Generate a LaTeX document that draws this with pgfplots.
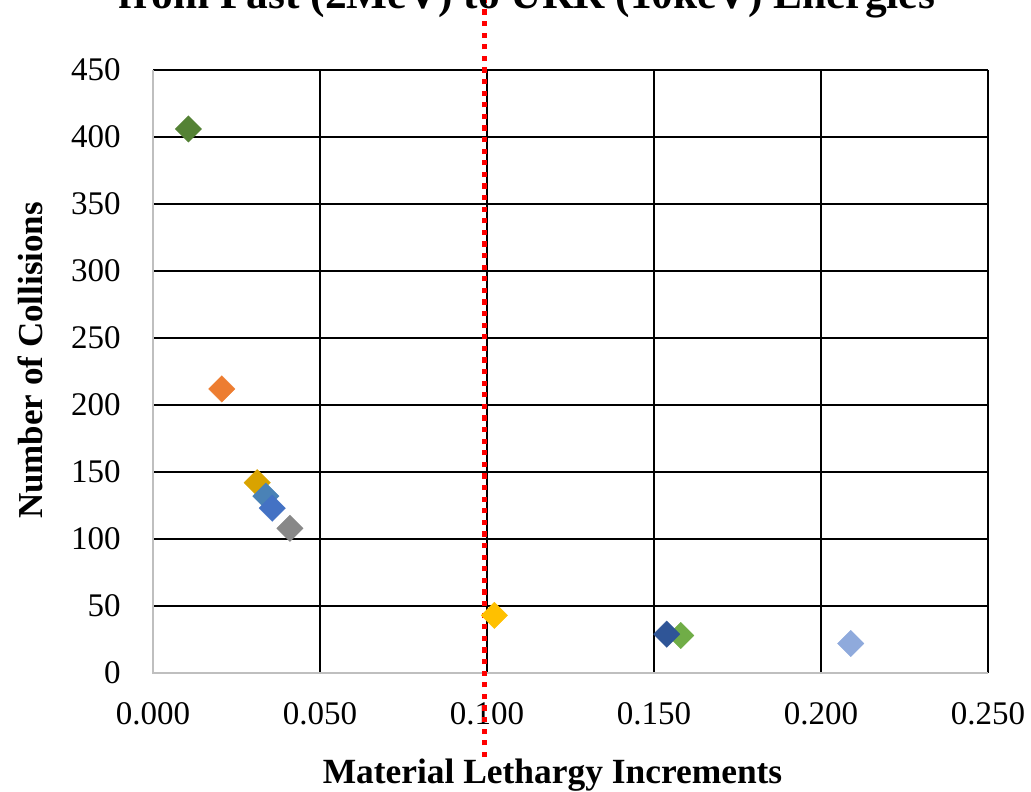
\documentclass[border=0pt]{standalone}
\usepackage{fontspec}
\setmainfont{Liberation Serif}
\usepackage{pgfplots}
\pgfplotsset{compat=1.18}

\definecolor{cDarkGreen}{HTML}{548235}
\definecolor{cOrange}{HTML}{ED7D31}
\definecolor{cGold}{HTML}{D9A300}
\definecolor{cSteel}{HTML}{4A82B6}
\definecolor{cBlue}{HTML}{4472C4}
\definecolor{cGray}{HTML}{888888}
\definecolor{cYellow}{HTML}{FFC000}
\definecolor{cNavy}{HTML}{2F5597}
\definecolor{cGreen}{HTML}{70AD47}
\definecolor{cLightBlue}{HTML}{8FAADC}
\definecolor{axisgray}{HTML}{BFBFBF}

\pgfplotsset{
  dmd/.style={only marks, mark=square*, mark size=4.7pt, color=#1,
    mark options={rotate=45, draw=#1, fill=#1, line width=0.1pt}},
}

\begin{document}
\begin{tikzpicture}
\begin{axis}[
  set layers,
  scale only axis,
  width=417.5pt, height=301.5pt,
  xmin=0, xmax=0.25, ymin=0, ymax=450,
  xtick={0,0.05,0.1,0.15,0.2,0.25},
  ytick={0,50,...,450},
  major tick length=0pt,
  axis line style={draw=none},
  grid=major,
  grid style={black, line width=1pt},
  clip=false,
  /pgf/number format/assume math mode=true,
  xticklabel style={/pgf/number format/.cd, fixed, fixed zerofill, precision=3, /tikz/.cd,
    anchor=north, inner sep=0pt, yshift=-14.75pt, font=\fontsize{16.5}{18}\selectfont},
  yticklabel style={anchor=east, inner sep=0pt, xshift=-16pt,
    font=\fontsize{16.5}{18}\selectfont},
]
  % left and bottom axis lines in light gray
  \draw[axisgray, line width=1.3pt] (rel axis cs:0,1) -- (rel axis cs:0,0) -- (rel axis cs:1,0);

  \addplot[dmd=cDarkGreen] coordinates {(0.0106,406)};
  \addplot[dmd=cOrange] coordinates {(0.0206,212)};
  \addplot[dmd=cGold] coordinates {(0.0312,142)};
  \addplot[dmd=cSteel] coordinates {(0.0338,132)};
  \addplot[dmd=cBlue] coordinates {(0.0357,123)};
  \addplot[dmd=cGray] coordinates {(0.0410,108)};
  \addplot[dmd=cYellow] coordinates {(0.1022,43)};
  \addplot[dmd=cGreen] coordinates {(0.1580,28)};
  \addplot[dmd=cNavy] coordinates {(0.1538,29)};
  \addplot[dmd=cLightBlue] coordinates {(0.2089,22)};

  % threshold marker at 0.1
  \addplot[red, line width=2.5pt, dash pattern=on 2.6pt off 3.2pt, mark=none]
    coordinates {(0.0991,-62.7) (0.0991,512)};
\end{axis}

\node[anchor=base, font=\bfseries\fontsize{17.7}{20}\selectfont] at (199.75pt,-55pt)
  {Material Lethargy Increments};
\node[anchor=base, rotate=90, font=\bfseries\fontsize{17.5}{20}\selectfont] at (-55pt,156.25pt)
  {Number of Collisions};
\node[anchor=base, font=\bfseries\fontsize{21.7}{24}\selectfont] at (187pt,332.25pt)
  {from Fast (2MeV) to URR (10keV) Energies};

\pgfresetboundingbox
\useasboundingbox (-76.5pt,-59pt) rectangle (439pt,336.5pt);
\end{tikzpicture}
\end{document}
